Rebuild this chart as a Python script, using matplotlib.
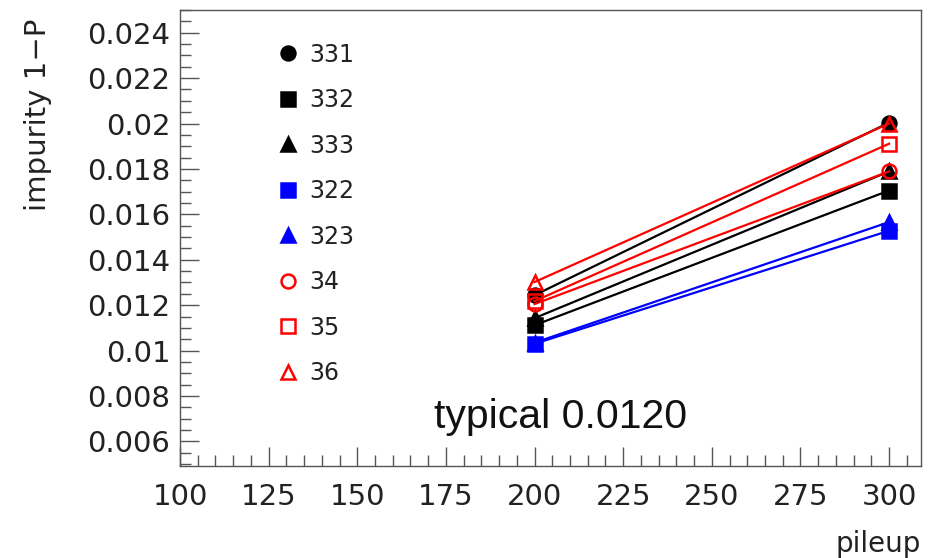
import matplotlib
matplotlib.use("Agg")
import matplotlib.pyplot as plt
from matplotlib.lines import Line2D
from matplotlib.ticker import MultipleLocator

plt.rcParams["font.family"] = ["DejaVu Sans"]

pileup = [200, 300]
labels = ["331", "332", "333", "322", "323", "34", "35", "36"]
impurity = {
    "331": [0.01244, 0.02004],
    "332": [0.01112, 0.01705],
    "333": [0.01143, 0.01789],
    "322": [0.01030, 0.01528],
    "323": [0.01035, 0.01566],
    "34": [0.01205, 0.01789],
    "35": [0.01218, 0.01911],
    "36": [0.01302, 0.02000],
}
colors = ["black", "black", "black", "blue", "blue", "red", "red", "red"]
markers = ["o", "s", "^", "s", "^", "o", "s", "^"]
filled = [True, True, True, True, True, False, False, False]


def ytick_fmt(v, pos):
    s = "%.3f" % v
    return s.rstrip("0") if s.endswith("0") else s


fig = plt.figure(figsize=(9.48, 5.58), dpi=100)
ax = fig.add_axes([0.1899, 0.1649, 0.7816, 0.8172])

handles = []
for lab, c, m, f in zip(labels, colors, markers, filled):
    fc = c if f else "none"
    ax.plot(pileup, impurity[lab], color=c, lw=1.6, marker=m, markersize=10,
            markerfacecolor=fc, markeredgecolor=c, markeredgewidth=1.8)
    handles.append(Line2D([], [], ls="", marker=m, markersize=10, color=c,
                          markerfacecolor=fc, markeredgecolor=c,
                          markeredgewidth=1.8, label=lab))

ax.set_xlim(100, 309)
ax.set_ylim(0.00492, 0.0250)

ax.xaxis.set_major_locator(MultipleLocator(25))
ax.xaxis.set_minor_locator(MultipleLocator(5))
ax.yaxis.set_major_locator(MultipleLocator(0.002))
ax.yaxis.set_minor_locator(MultipleLocator(0.0005))
ax.yaxis.set_major_formatter(plt.FuncFormatter(ytick_fmt))

ax.tick_params(axis="both", which="both", direction="in", top=False, right=False,
               color="#555555", width=1.0, labelcolor="#222222")
ax.tick_params(axis="x", which="major", length=14, labelsize=21, pad=12)
ax.tick_params(axis="x", which="minor", length=8)
ax.tick_params(axis="y", which="major", length=14, labelsize=21, pad=7)
ax.tick_params(axis="y", which="minor", length=8)
for sp in ax.spines.values():
    sp.set_color("#555555")
    sp.set_linewidth(1.0)

ax.set_ylabel("impurity 1\u2212P", fontsize=21, color="#222222")
ax.yaxis.set_label_coords(-0.173, 0.98)
ax.yaxis.label.set_horizontalalignment("right")
ax.set_xlabel("pileup", fontsize=20, color="#222222")
ax.xaxis.set_label_coords(1.0, -0.17)
ax.xaxis.label.set_horizontalalignment("right")
ax.xaxis.label.set_verticalalignment("center")

ax.text(0.343, 0.108, "typical 0.0120", transform=ax.transAxes, fontsize=29.5,
        family="Liberation Sans", color="#111111", ha="left", va="center")

ax.legend(handles=handles, loc="upper left", bbox_to_anchor=(0.103, 0.975),
          frameon=False, fontsize=17, handlelength=0.9, handletextpad=0.43,
          labelspacing=0.91, labelcolor="#222222")

fig.savefig("out.png", dpi=100)
